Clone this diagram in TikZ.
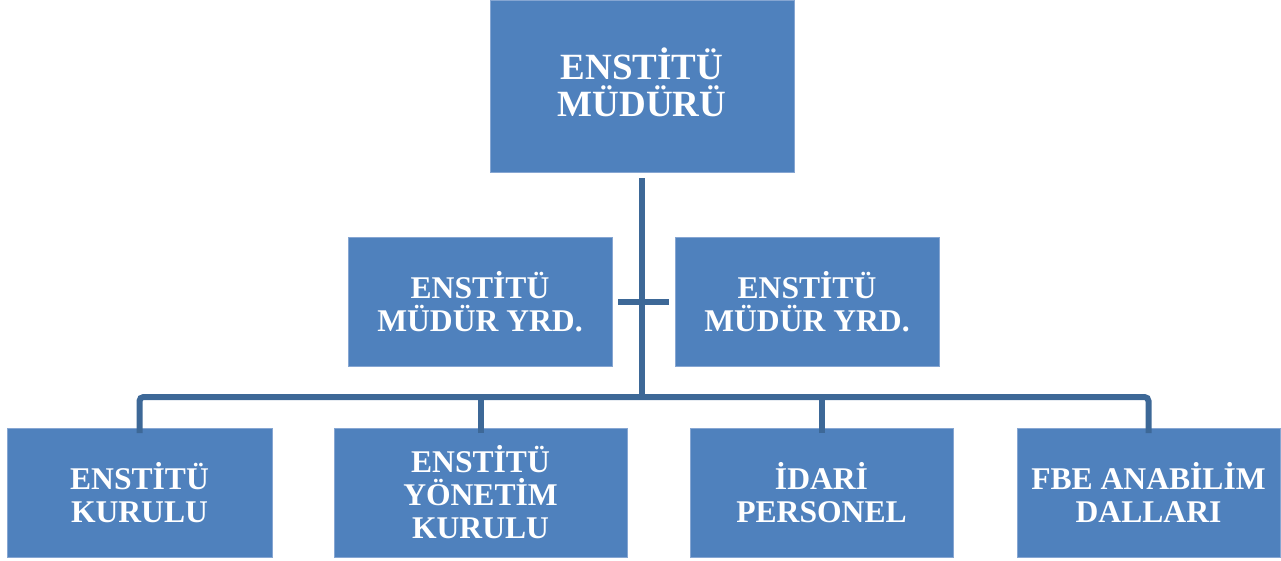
\documentclass[tikz,border=0pt]{standalone}
\usepackage{fontspec}
\setmainfont{Liberation Serif}
\definecolor{boxfill}{HTML}{4F81BD}
\definecolor{boxedge}{HTML}{86A6D2}
\definecolor{conncol}{HTML}{3D6897}
\begin{document}
\begin{tikzpicture}[x=1pt,y=-1pt,
  orgbox/.style={rectangle, fill=boxfill, draw=boxedge, line width=0.8pt,
    inner sep=0pt, outer sep=0pt, align=center, text=white,
    font=\fontsize{31.6}{33}\selectfont\bfseries},
  topbox/.style={orgbox, font=\fontsize{37}{37.5}\selectfont\bfseries},
  conn/.style={draw=conncol, line width=6pt}]
\useasboundingbox (0,0) rectangle (1281,560);
\node[topbox, minimum width=304pt, minimum height=172pt, text depth=8pt] (top) at (642,86) {ENSTİTÜ\\MÜDÜRÜ};
\node[orgbox, minimum width=264pt, minimum height=129pt] (m1) at (480,301.5) {ENSTİTÜ\\MÜDÜR YRD.};
\node[orgbox, minimum width=264pt, minimum height=129pt] (m2) at (807,301.5) {ENSTİTÜ\\MÜDÜR YRD.};
\node[orgbox, minimum width=265pt, minimum height=129pt] (b1) at (139.5,492.5) {ENSTİTÜ\\KURULU};
\node[orgbox, minimum width=293pt, minimum height=129pt] (b2) at (480.5,492.5) {ENSTİTÜ\\YÖNETİM\\KURULU};
\node[orgbox, minimum width=263pt, minimum height=129pt] (b3) at (821.5,492.5) {İDARİ\\PERSONEL};
\node[orgbox, minimum width=263pt, minimum height=129pt] (b4) at (1148.5,492.5) {FBE ANABİLİM\\DALLARI};
\coordinate (bus) at (642,397);
\draw[conn] ([yshift=-6pt]top.south) -- (bus);
\draw[conn, rounded corners=4pt] ([yshift=-5pt]b1.north) |- (bus) -| ([yshift=-5pt]b4.north);
\draw[conn] ([yshift=-5pt]b2.north) -- (b2.north |- bus);
\draw[conn] ([yshift=-5pt]b3.north) -- (b3.north |- bus);
\draw[conn, shorten <=6pt, shorten >=6pt] (m1.east) -- (m2.west);
\end{tikzpicture}
\end{document}
